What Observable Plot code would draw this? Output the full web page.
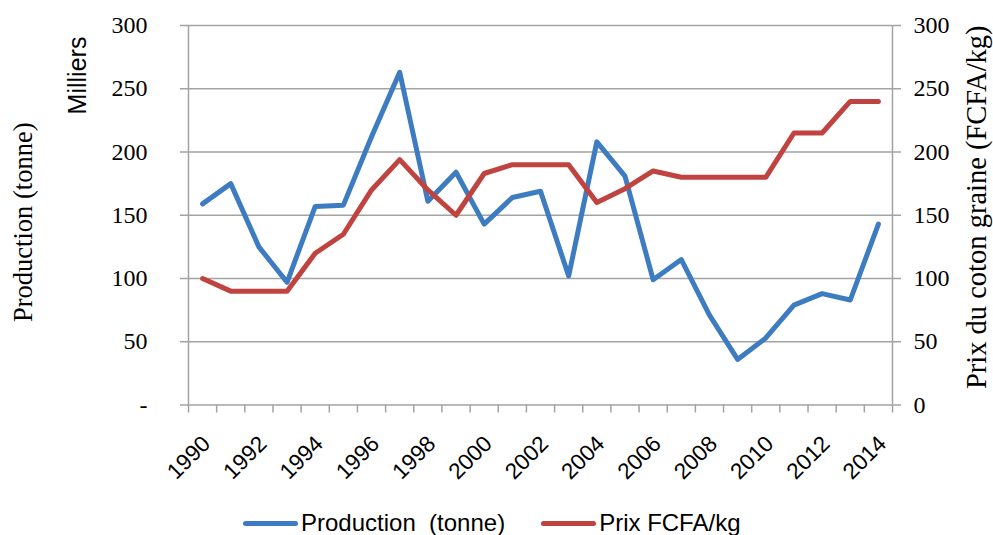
<!DOCTYPE html>
<html><head><meta charset="utf-8">
<script src="https://cdn.jsdelivr.net/npm/d3@7"></script>
<script src="https://cdn.jsdelivr.net/npm/@observablehq/plot@0.6"></script>
<style>
html,body{margin:0;background:#fff;overflow:hidden;}
#chart svg{display:block;}
#legend{display:flex;align-items:center;height:36px;padding-left:243px;font-family:"Liberation Sans Narrow","Liberation Sans",sans-serif;font-size:24px;color:#000;}
.sw{display:inline-block;width:55px;height:5px;border-radius:3px;margin-right:3px;}
.item{display:flex;align-items:center;margin-right:36px;}
</style></head><body><div id="chart"></div><div id="legend"></div><script>
const years = [1990,1991,1992,1993,1994,1995,1996,1997,1998,1999,2000,2001,2002,2003,2004,2005,2006,2007,2008,2009,2010,2011,2012,2013,2014];
const production = [159,175,125,97,157,158,212,263,161,184,143,164,169,102,208,181,99,115,71,36,53,79,88,83,143];
const prix = [100,90,90,90,120,135,170,194,170,150,183,190,190,190,160,171,185,180,180,180,180,215,215,240,240];
const yTicks = [0,50,100,150,200,250,300];
const leftTickLabels = ["-","50","100","150","200","250","300"];
const rightTickLabels = ["0","50","100","150","200","250","300"];
const xLabelYears = [1990,1992,1994,1996,1998,2000,2002,2004,2006,2008,2010,2012,2014];
const seriesNames = ["Production  (tonne)","Prix FCFA/kg"];
const colors = ["#3d7cc0","#c0433f"];

const data = years.map((y,i)=>({year:y, production:production[i], prix:prix[i]}));
const boundaries = years.map(y=>y-0.5).concat([years[years.length-1]+0.5]);
const grid = "#a3a3a3";
const serif = "Liberation Serif, Times New Roman, serif";
const sans = "Liberation Sans, Arial, sans-serif";

const chart = Plot.plot({
  width: 993, height: 505,
  marginLeft: 188, marginRight: 101, marginTop: 25, marginBottom: 100.5,
  style: {background:"#fff", color:"#000", overflow:"visible"},
  x: {domain:[years[0]-0.5, years[years.length-1]+0.5], axis:null},
  y: {domain:[0,300], axis:null},
  marks: [
    Plot.ruleY(yTicks, {stroke: grid, strokeWidth: 1.5}),
    Plot.ruleX([years[0]-0.5, years[years.length-1]+0.5], {stroke: grid, strokeWidth: 1.5}),
    Plot.axisY({anchor:"left", ticks: yTicks, tickFormat:(d)=>leftTickLabels[yTicks.indexOf(d)], tickSize: 8, tickPadding: 33, stroke: grid, strokeWidth:1.5, fill:"#000", fontSize: 24, fontFamily: serif, label: null}),
    Plot.axisY({anchor:"right", ticks: yTicks, tickFormat:(d)=>rightTickLabels[yTicks.indexOf(d)], tickSize: 8, tickPadding: 13, stroke: grid, strokeWidth:1.5, fill:"#000", fontSize: 24, fontFamily: serif, label: null}),
    Plot.axisX({ticks: boundaries, tickFormat: ()=>"", tickSize: 8, stroke: grid, strokeWidth:1.5, label:null}),
    Plot.axisX({ticks: xLabelYears, tickFormat: d=>String(d), tickSize: 0, tickPadding: 35, dx: 4, tickRotate: -45, fill:"#000", fontSize: 22.5, fontFamily: sans, label:null}),
    Plot.lineY(data, {x:"year", y:"production", stroke: colors[0], strokeWidth: 5, strokeLinecap:"round", strokeLinejoin:"round"}),
    Plot.lineY(data, {x:"year", y:"prix", stroke: colors[1], strokeWidth: 5, strokeLinecap:"round", strokeLinejoin:"round"}),
    Plot.text(["Production (tonne)"], {frameAnchor:"left", textAnchor:"middle", lineAnchor:"middle", dx:-165, dy:7, rotate:-90, fontSize: 26.5, fontFamily: serif, fill:"#000"}),
    Plot.text(["Milliers"], {frameAnchor:"top-left", textAnchor:"middle", lineAnchor:"middle", dx:-111, dy:50, rotate:-90, fontSize: 25, fontFamily: sans, fill:"#000"}),
    Plot.text(["Prix du coton graine (FCFA/kg)"], {frameAnchor:"right", textAnchor:"middle", lineAnchor:"middle", dx:84, dy:-8, rotate:-90, fontSize: 28.5, fontFamily: serif, fill:"#000"})
  ]
});
document.getElementById("chart").appendChild(chart);

const legend = document.getElementById("legend");
seriesNames.forEach((n,i)=>{
  const it = document.createElement("div"); it.className="item";
  const sw = document.createElement("span"); sw.className="sw"; sw.style.background=colors[i];
  const t = document.createElement("span"); t.textContent = n; t.style.whiteSpace="pre";
  it.appendChild(sw); it.appendChild(t); legend.appendChild(it);
});
</script></body></html>
